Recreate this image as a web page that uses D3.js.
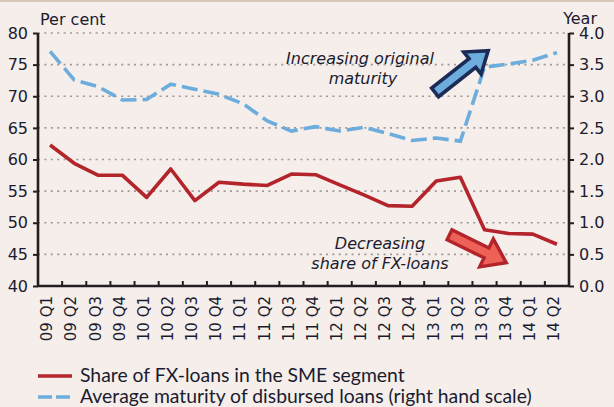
<!DOCTYPE html>
<html>
<head>
<meta charset="utf-8">
<script src="https://cdn.jsdelivr.net/npm/d3@7"></script>
<style>
  html, body { margin: 0; padding: 0; background: #F5EEEA; }
  svg { display: block; }
</style>
</head>
<body>
<svg id="chart" width="614" height="407"></svg>
<script>
// ---- data ----
const categories = ["09 Q1","09 Q2","09 Q3","09 Q4","10 Q1","10 Q2","10 Q3","10 Q4",
  "11 Q1","11 Q2","11 Q3","11 Q4","12 Q1","12 Q2","12 Q3","12 Q4",
  "13 Q1","13 Q2","13 Q3","13 Q4","14 Q1","14 Q2"];
const fxShare = [62.3, 59.4, 57.5, 57.5, 54.0, 58.5, 53.5, 56.4,
  56.1, 55.9, 57.7, 57.6, 56.0, 54.4, 52.7, 52.6,
  56.6, 57.2, 48.9, 48.3, 48.2, 46.6];
const avgMaturity = [3.71, 3.26, 3.15, 2.94, 2.95, 3.19, 3.11, 3.03,
  2.88, 2.61, 2.45, 2.52, 2.45, 2.51, 2.41, 2.30,
  2.34, 2.29, 3.46, 3.51, 3.57, 3.69];
const leftTicks = [40, 45, 50, 55, 60, 65, 70, 75, 80];
const rightTicks = [0, 0.5, 1, 1.5, 2, 2.5, 3, 3.5, 4];
const seriesNames = ["Share of FX-loans in the SME segment",
  "Average maturity of disbursed loans (right hand scale)"];
const leftUnit = "Per cent";
const rightUnit = "Year";
const noteUp = ["Increasing original", "maturity"];
const noteDown = ["Decreasing", "share of FX-loans"];

// ---- layout ----
const W = 614, H = 407;
const X0 = 38, X1 = 569, YT = 33, YB = 286;
const RED = "#B3242B", BLUE = "#6CADDD", TXT = "#1B1B2F", AX = "#231F20";

const svg = d3.select("#chart");
svg.append("rect").attr("width", W).attr("height", H).attr("fill", "#F5EEEA");
svg.append("rect").attr("width", W).attr("height", 2).attr("fill", "#D8C8BA");

const x = d3.scaleBand().domain(categories).range([X0, X1]).padding(0);
const yL = d3.scaleLinear().domain([40, 80]).range([YB, YT]);
const yR = d3.scaleLinear().domain([0, 4]).range([YB, YT]);
const cx = c => x(c) + x.bandwidth() / 2;
const xi = i => X0 + x.bandwidth() * (i + 0.5);

// gridlines
svg.append("g").selectAll("line").data(leftTicks.filter(t => t > 40)).join("line")
  .attr("x1", X0).attr("x2", X1)
  .attr("y1", d => yL(d)).attr("y2", d => yL(d))
  .attr("stroke", "#9C9A99").attr("stroke-width", 1.6)
  .attr("stroke-dasharray", "2,4.4");

// left axis
const gl = svg.append("g").attr("transform", `translate(${X0},0)`)
  .call(d3.axisLeft(yL).tickValues(leftTicks).tickSize(5).tickPadding(5).tickFormat(d3.format("d")));
// right axis
const gr = svg.append("g").attr("transform", `translate(${X1},0)`)
  .call(d3.axisRight(yR).tickValues(rightTicks).tickSize(5).tickPadding(5).tickFormat(d3.format(".1f")));
// bottom axis (ticks at band boundaries, pointing up)
const gb = svg.append("g").attr("transform", `translate(0,${YB})`);
gb.append("line").attr("x1", X0).attr("x2", X1).attr("stroke", AX).attr("stroke-width", 2.6);
gb.selectAll("line.tk").data(d3.range(categories.length + 1)).join("line").attr("class", "tk")
  .attr("x1", i => X0 + i * x.bandwidth()).attr("x2", i => X0 + i * x.bandwidth())
  .attr("y1", 0).attr("y2", -5).attr("stroke", AX).attr("stroke-width", 2);
gb.selectAll("text").data(categories).join("text")
  .attr("transform", d => `translate(${cx(d) - 3},10) rotate(-90)`)
  .attr("text-anchor", "end").attr("dy", "0.35em")
  .attr("font-family", "DejaVu Sans").attr("font-size", 15).attr("fill", TXT)
  .text(d => d);

[gl, gr].forEach(g => {
  g.select(".domain").attr("stroke", AX).attr("stroke-width", 2.6);
  g.selectAll(".tick line").attr("stroke", AX).attr("stroke-width", 2);
  g.selectAll(".tick text").attr("font-family", "DejaVu Sans").attr("font-size", 16).attr("fill", TXT);
});
gl.select(".domain").attr("d", `M0,${YT}V${YB}`);
gr.select(".domain").attr("d", `M0,${YT}V${YB}`);

// unit labels
svg.append("text").attr("x", 40).attr("y", 25).attr("font-family", "DejaVu Sans")
  .attr("font-size", 16).attr("fill", TXT).text(leftUnit);
svg.append("text").attr("x", 597).attr("y", 24).attr("text-anchor", "end").attr("font-family", "DejaVu Sans")
  .attr("font-size", 16).attr("fill", TXT).text(rightUnit);

// series
const lineL = d3.line().x((d, i) => cx(categories[i])).y(d => yL(d));
const lineR = d3.line().x((d, i) => cx(categories[i])).y(d => yR(d));
svg.append("path").datum(avgMaturity).attr("d", lineR).attr("fill", "none")
  .attr("stroke", BLUE).attr("stroke-width", 3.6).attr("stroke-dasharray", "16,6");
svg.append("path").datum(fxShare).attr("d", lineL).attr("fill", "none")
  .attr("stroke", RED).attr("stroke-width", 3.6).attr("stroke-linejoin", "round");

// block arrows (annotation), placed in data coordinates
function blockArrow(x1, y1, x2, y2, shaft, head, headLen) {
  const dx = x2 - x1, dy = y2 - y1, L = Math.hypot(dx, dy);
  const ux = dx / L, uy = dy / L, nx = -uy, ny = ux;
  const bx = x2 - ux * headLen, by = y2 - uy * headLen;
  const p = [
    [x1 + nx * shaft / 2, y1 + ny * shaft / 2],
    [bx + nx * shaft / 2, by + ny * shaft / 2],
    [bx + nx * head / 2, by + ny * head / 2],
    [x2, y2],
    [bx - nx * head / 2, by - ny * head / 2],
    [bx - nx * shaft / 2, by - ny * shaft / 2],
    [x1 - nx * shaft / 2, y1 - ny * shaft / 2]
  ];
  return "M" + p.map(q => q.join(",")).join("L") + "Z";
}
svg.append("path")
  .attr("d", blockArrow(xi(15.95), yL(70.6), xi(18.15), yL(77.2), 11, 28, 20))
  .attr("fill", BLUE).attr("stroke", "#1B2B55").attr("stroke-width", 3.6).attr("stroke-linejoin", "miter");
svg.append("path")
  .attr("d", blockArrow(xi(16.55), yL(48.1), xi(18.9), yL(43.7), 11, 31, 22))
  .attr("fill", "#EE6157").attr("stroke", "#B3242B").attr("stroke-width", 3.4).attr("stroke-linejoin", "miter");

// annotation texts
const noteStyle = s => s.attr("font-family", "DejaVu Sans").attr("font-style", "italic")
  .attr("font-size", 16).attr("fill", TXT).attr("text-anchor", "middle");
svg.append("text").attr("x", 360).attr("y", 64).call(noteStyle).text(noteUp[0]);
svg.append("text").attr("x", 363).attr("y", 84).call(noteStyle).text(noteUp[1]);
svg.append("text").attr("x", 380).attr("y", 249).call(noteStyle).text(noteDown[0]);
svg.append("text").attr("x", 380).attr("y", 269).call(noteStyle).text(noteDown[1]);

// legend
const lg = svg.append("g");
lg.append("line").attr("x1", 38).attr("x2", 72).attr("y1", 376).attr("y2", 376)
  .attr("stroke", RED).attr("stroke-width", 3.6);
lg.append("line").attr("x1", 38).attr("x2", 72).attr("y1", 397).attr("y2", 397)
  .attr("stroke", BLUE).attr("stroke-width", 3.6).attr("stroke-dasharray", "14,4");
const legTexts = seriesNames.map((n, i) =>
  lg.append("text").attr("x", 80).attr("y", 382 + i * 21)
    .attr("font-family", "Lato").attr("font-size", 17).attr("fill", TXT).text(n));
// fit legend font so the first entry ends near x=405 as in the reference
const measured = legTexts[0].node().getComputedTextLength();
const fs = Math.min(19.5, 17 * 325 / measured);
legTexts.forEach(t => t.attr("font-size", fs));
</script>
</body>
</html>
